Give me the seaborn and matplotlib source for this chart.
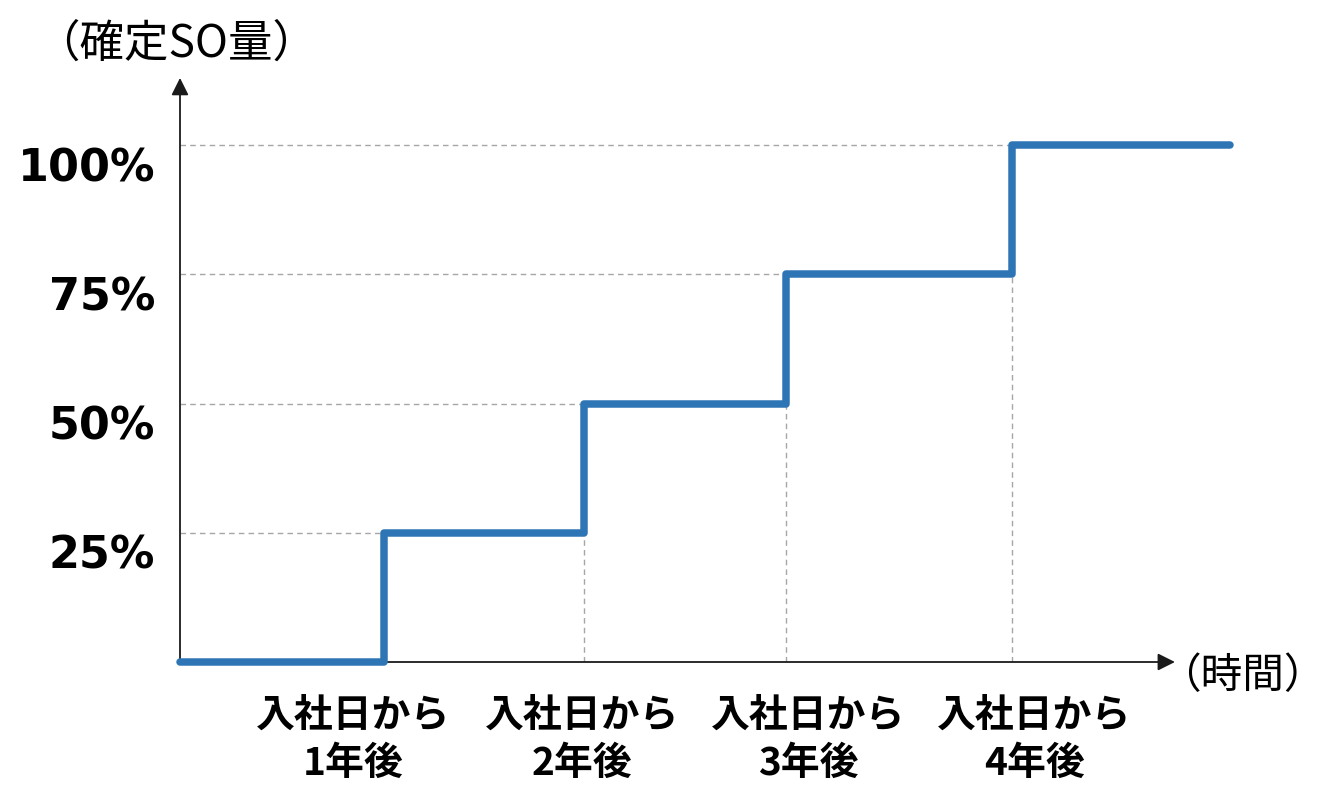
import matplotlib.pyplot as plt
import matplotlib.transforms as mtransforms
import pandas as pd
import seaborn as sns

# データ
step_x = [0, 1.0, 1.98, 2.97, 4.08, 5.15]          # 段差の位置（年）
step_y = [0, 25, 50, 75, 100, 100]                  # 確定SO量（%）
y_ticks = [25, 50, 75, 100]
y_labels = ["25%", "50%", "75%", "100%"]
x_tick_pos = [0.85, 1.97, 3.08, 4.19]
x_labels = ["入社日から\n1年後", "入社日から\n2年後", "入社日から\n3年後", "入社日から\n4年後"]

df = pd.DataFrame({"時間": step_x, "確定SO量": step_y})

sns.set_style("white")
plt.rcParams["font.family"] = ["Noto Sans CJK JP", "DejaVu Sans"]

fig = plt.figure(figsize=(13.27, 7.86), dpi=100)
ax = fig.add_axes([180 / 1327, 124 / 786, 1050 / 1327, 582 / 786])

# 補助の破線
grid_col = "#A6A6A6"
for i in range(1, 5):
    ax.hlines(step_y[i], 0, step_x[i], colors=grid_col, linestyles=(0, (4, 3)), lw=1, zorder=1)
for i in range(2, 5):
    ax.vlines(step_x[i], 0, step_y[i - 1], colors=grid_col, linestyles=(0, (4, 3)), lw=1, zorder=1)

# 階段グラフ
sns.lineplot(data=df, x="時間", y="確定SO量", drawstyle="steps-post",
             color="#2E75B6", linewidth=5.4, ax=ax, zorder=3, clip_on=False)

ax.set_xlim(0, 5.15)
ax.set_ylim(0, 112.6)
sns.despine(ax=ax, left=True, bottom=True)

# 矢印付きの軸
arrow = dict(arrowstyle="-|>", color="#1a1a1a", lw=1.3, mutation_scale=26,
             shrinkA=0, shrinkB=0)
ax.annotate("", xy=(4.88, 0), xytext=(0, 0), arrowprops=arrow, annotation_clip=False, zorder=2)
ax.annotate("", xy=(0, 113), xytext=(0, 0), arrowprops=arrow, annotation_clip=False, zorder=2)

# 目盛りラベル
ax.set_yticks(y_ticks, y_labels)
ax.tick_params(axis="y", length=0, pad=18, labelcolor="black")
for lab in ax.get_yticklabels():
    lab.set_fontfamily("DejaVu Sans")
    lab.set_fontweight("bold")
    lab.set_fontsize(32)
    lab.set_transform(lab.get_transform() + mtransforms.ScaledTranslation(0, -0.19, fig.dpi_scale_trans))

ax.set_xticks(x_tick_pos, x_labels)
ax.tick_params(axis="x", length=0, pad=24, labelcolor="black")
for lab in ax.get_xticklabels():
    lab.set_fontweight("bold")
    lab.set_fontsize(28)
    lab.set_linespacing(1.3)

ax.set_xlabel("")
ax.set_ylabel("")

# 軸タイトル
fig.text(176 / 1327, 1 - 44 / 786, "（確定SO量）", ha="center", va="center", fontsize=32, color="black")
fig.text(1326 / 1327, 1 - 676 / 786, "（時間）", ha="right", va="center", fontsize=30, color="black")

fig.savefig("out.png", dpi=100)
